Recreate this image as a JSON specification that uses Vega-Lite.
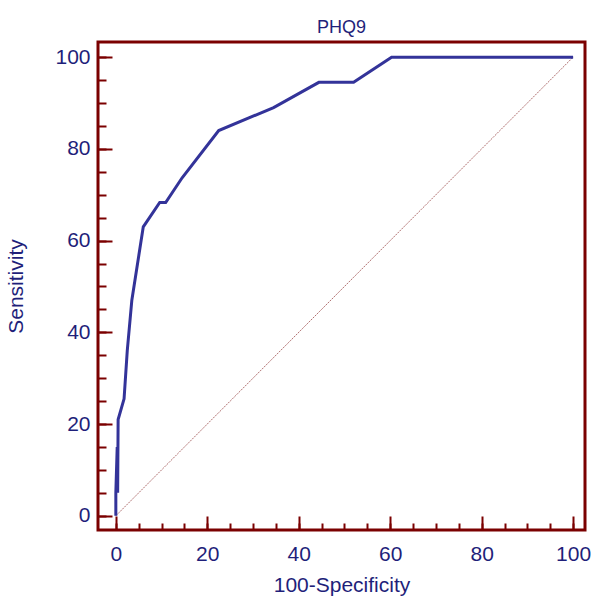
{
  "$schema": "https://vega.github.io/schema/vega-lite/v6.json",
  "width": 487,
  "height": 488,
  "autosize": {"type": "none"},
  "padding": {"left": 98, "top": 42, "right": 9, "bottom": 66},
  "background": "white",
  "title": {"text": "PHQ9", "fontSize": 18, "font": "Liberation Sans", "fontWeight": "normal", "color": "#1f1f7a", "offset": 5, "anchor": "middle"},
  "config": {
    "view": {"stroke": "#7b0000", "strokeWidth": 3},
    "axis": {"domain": false, "grid": false, "labelFont": "Liberation Sans", "titleFont": "Liberation Sans", "labelFontSize": 21, "titleFontSize": 21, "titleFontWeight": "normal", "labelColor": "#1f1f7a", "titleColor": "#1f1f7a", "tickColor": "#7b0000", "tickWidth": 2}
  },
  "layer": [
    {
      "data": {"values": [
        {"x": 0, "y": 0}, {"x": 100, "y": 100}
      ]},
      "mark": {"type": "line", "color": "#b07070", "strokeWidth": 1, "strokeDash": [2, 1]},
      "encoding": {
        "x": {"field": "x", "type": "quantitative", "scale": {"domain": [-3.9, 102.6], "nice": false, "zero": false},
              "axis": {"orient": "bottom", "values": [0,5,10,15,20,25,30,35,40,45,50,55,60,65,70,75,80,85,90,95,100], "labels": false, "title": null, "tickSize": -7}},
        "y": {"field": "y", "type": "quantitative", "scale": {"domain": [-3.1, 103.3], "nice": false, "zero": false},
              "axis": {"orient": "left", "values": [0,5,10,15,20,25,30,35,40,45,50,55,60,65,70,75,80,85,90,95,100], "labels": false, "title": null, "tickSize": -8}}
      }
    },
    {
      "data": {"values": [
        {"x": 0, "y": 0}, {"x": 0, "y": 5}, {"x": 0.4, "y": 5}, {"x": 0.3, "y": 15},
        {"x": 0.5, "y": 21}, {"x": 1.8, "y": 25.5}, {"x": 2.5, "y": 36}, {"x": 3.5, "y": 47},
        {"x": 6, "y": 63}, {"x": 9.6, "y": 68.3}, {"x": 10.9, "y": 68.3}, {"x": 14.5, "y": 73.7},
        {"x": 22.5, "y": 84}, {"x": 34.5, "y": 89}, {"x": 44.4, "y": 94.5}, {"x": 52, "y": 94.5},
        {"x": 60.3, "y": 100}, {"x": 100, "y": 100}
      ]},
      "mark": {"type": "line", "color": "#333399", "strokeWidth": 3},
      "encoding": {
        "x": {"field": "x", "type": "quantitative", "sort": null, "scale": {"domain": [-3.9, 102.6], "nice": false, "zero": false},
              "axis": {"orient": "bottom", "values": [0,20,40,60,80,100], "title": "100-Specificity", "tickSize": -14, "labelPadding": 27, "titlePadding": 10}},
        "y": {"field": "y", "type": "quantitative", "scale": {"domain": [-3.1, 103.3], "nice": false, "zero": false},
              "axis": {"orient": "left", "values": [0,20,40,60,80,100], "title": "Sensitivity", "tickSize": -14, "labelPadding": 22, "titlePadding": 28}},
        "order": {"field": "x"}
      }
    }
  ],
  "resolve": {"axis": {"x": "independent", "y": "independent"}}
}
